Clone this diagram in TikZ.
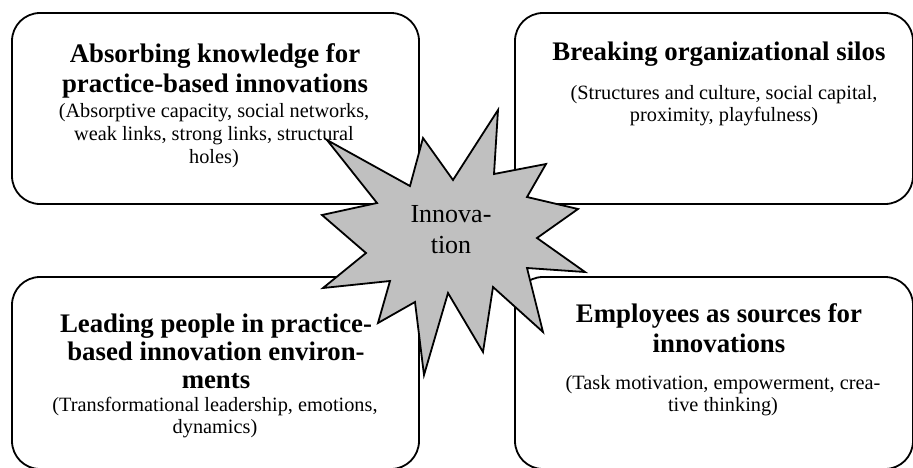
\documentclass[tikz,border=0pt]{standalone}
\usepackage{fontspec}
\setmainfont{Liberation Serif}
\definecolor{starfill}{RGB}{192,192,192}
\tikzset{
  box/.style={draw=black, line width=1.8pt, rounded corners=28pt, fill=white,
              inner sep=0pt, outer sep=0pt},
  head/.style={anchor=base, inner sep=0pt, font=\fontsize{26.8}{30}\selectfont\bfseries},
  body/.style={anchor=base, inner sep=0pt, font=\fontsize{20.3}{23}\selectfont},
  startext/.style={anchor=base, inner sep=0pt, font=\fontsize{26}{31}\selectfont},
  starshape/.style={draw=black, line width=1.8pt, fill=starfill, line join=miter}
}
\begin{document}
\begin{tikzpicture}[x=1pt,y=-1pt]
\useasboundingbox (0,0) rectangle (913,467);
\begin{scope}
\clip (0,0) rectangle (913,467);
% boxes
\node[box, minimum width=407pt, minimum height=191pt] (tl) at (215.5,108.5) {};
\node[box, minimum width=398pt, minimum height=191pt] (tr) at (714,108.5) {};
\node[box, minimum width=407pt, minimum height=192pt] (bl) at (215.5,373) {};
\node[box, minimum width=398pt, minimum height=192pt] (br) at (714,373) {};
% texts of boxes
\node[head] (tlh1) at (215,62) {Absorbing knowledge for};
\node[head] (tlh2) at (215,92.5) {practice-based innovations};
\node[body] (tlb1) at (214,117) {(Absorptive capacity, social networks,};
\node[body] (tlb2) at (214,140) {weak links, strong links, structural};
\node[body] (tlb3) at (214,163) {holes)};
\node[head] (trh1) at (719,60) {Breaking organizational silos};
\node[body] (trb1) at (724,99) {(Structures and culture, social capital,};
\node[body] (trb2) at (724,121) {proximity, playfulness)};
\node[head] (blh1) at (216,332) {Leading people in practice-};
\node[head] (blh2) at (216,360) {based innovation environ-};
\node[head] (blh3) at (216,388) {ments};
\node[body] (blb1) at (215,411) {(Transformational leadership, emotions,};
\node[body] (blb2) at (215,433) {dynamics)};
\node[head] (brh1) at (719,322) {Employees as sources for};
\node[head] (brh2) at (719,352) {innovations};
\node[body] (brb1) at (723,389) {(Task motivation, empowerment, crea-};
\node[body] (brb2) at (723,411) {tive thinking)};
% star
\draw[starshape] (327,140) -- (410,186) -- (423,138) -- (453,180) -- (498,110)
  -- (494,174) -- (546,164) -- (527,197) -- (578,209) -- (537,238) -- (585,272)
  -- (527,268) -- (543,332) -- (493,287) -- (483,352) -- (448,293) -- (424,375)
  -- (415,302) -- (378,323) -- (390,281) -- (323,288) -- (366,253) -- (322,215)
  -- (377,203) -- cycle;
\node[startext] (inn1) at (451,222) {Innova-};
\node[startext] (inn2) at (451,253) {tion};
\end{scope}
\end{tikzpicture}
\end{document}
